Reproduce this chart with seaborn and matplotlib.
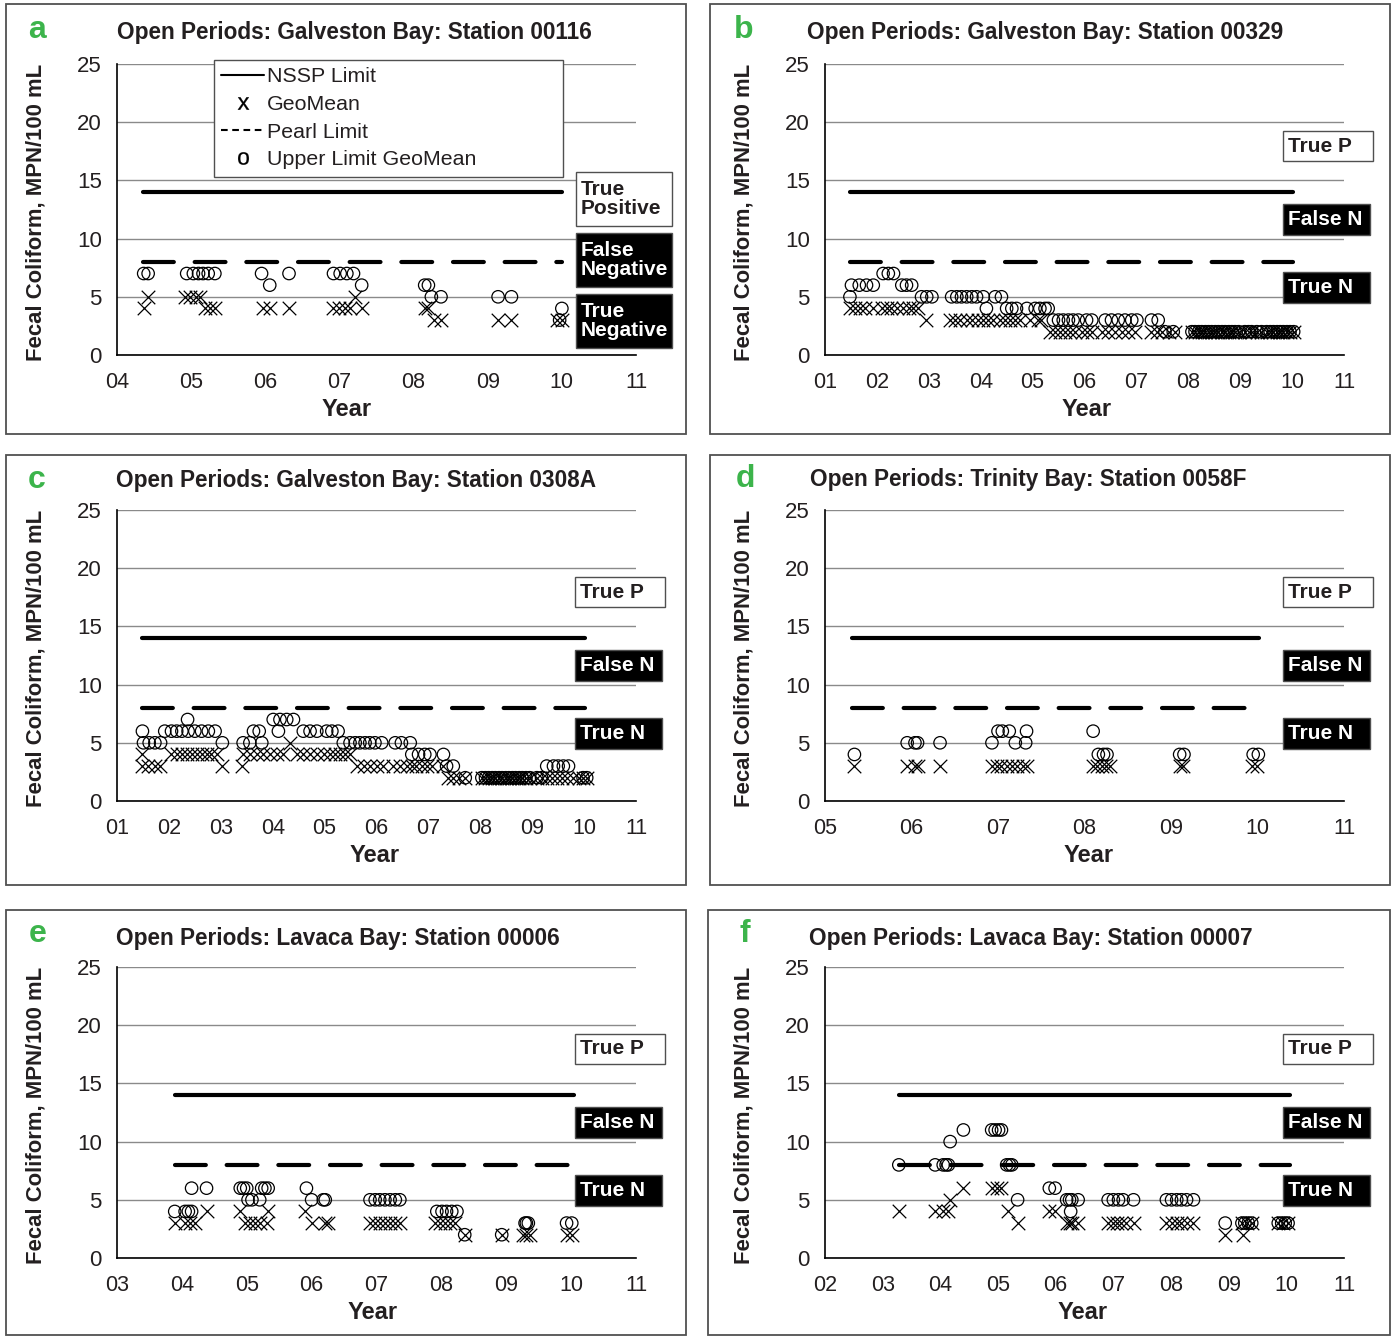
import matplotlib
matplotlib.use('Agg')
import matplotlib.pyplot as plt
import seaborn as sns
from matplotlib.lines import Line2D
from matplotlib.patches import Rectangle
from matplotlib.ticker import MultipleLocator, FuncFormatter

sns.set_style('white')
plt.rcParams['font.family'] = ['Liberation Sans', 'DejaVu Sans']

# ---------------- data ----------------
titles = ['Open Periods: Galveston Bay: Station 00116',
          'Open Periods: Galveston Bay: Station 00329',
          'Open Periods: Galveston Bay: Station 0308A',
          'Open Periods: Trinity Bay: Station 0058F',
          'Open Periods: Lavaca Bay: Station 00006',
          'Open Periods: Lavaca Bay: Station 00007']
letters = ['a', 'b', 'c', 'd', 'e', 'f']
x_min = [4, 1, 1, 5, 3, 2]
x_max = [11, 11, 11, 11, 11, 11]
nssp_limit = 14
pearl_limit = 8
limit_start = [4.35, 1.48, 1.48, 5.31, 3.89, 3.28]
limit_end = [10.0, 10.02, 10.02, 10.02, 10.04, 10.06]

# panel a
a_geo_year = [4.36, 4.42, 4.92, 4.99, 5.07, 5.12, 5.19, 5.25, 5.32, 5.97, 6.06, 6.32,
              6.92, 7.00, 7.08, 7.14, 7.21, 7.31, 8.15, 8.20, 8.27, 8.37, 9.14, 9.32, 9.94, 10.00]
a_geo_val = [4, 5, 5, 5, 5, 5, 4, 4, 4, 4, 4, 4,
             4, 4, 4, 4, 5, 4, 4, 4, 3, 3, 3, 3, 3, 3]
a_ul_year = [4.36, 4.42, 4.94, 5.03, 5.10, 5.16, 5.23, 5.32, 5.95, 6.06, 6.32,
             6.92, 7.01, 7.10, 7.19, 7.30, 8.15, 8.20, 8.24, 8.37, 9.14, 9.32, 9.97, 10.00]
a_ul_val = [7, 7, 7, 7, 7, 7, 7, 7, 7, 6, 7,
            7, 7, 7, 7, 6, 6, 6, 5, 5, 5, 5, 3, 4]

# panel b
b_geo_year = [1.48, 1.58, 1.67, 1.77, 1.93, 2.09, 2.19, 2.28, 2.38, 2.51, 2.61, 2.70, 2.80, 2.95,
              3.41, 3.50, 3.60, 3.73, 3.83, 3.95, 4.05, 4.15, 4.24, 4.37, 4.47, 4.56, 4.66, 4.76, 4.95, 5.11, 5.17,
              5.34, 5.43, 5.53, 5.62, 5.72, 5.82, 5.95, 6.04, 6.14, 6.33, 6.46, 6.59, 6.72, 6.84, 6.97,
              7.29, 7.39, 7.49, 7.62, 7.74,
              8.07, 8.13, 8.20, 8.26, 8.33, 8.39, 8.45, 8.52, 8.58, 8.65, 8.71, 8.78, 8.84, 8.90, 8.97,
              9.09, 9.16, 9.22, 9.32, 9.41, 9.51, 9.58, 9.64, 9.71, 9.77, 9.83, 9.90, 9.96, 10.03]
b_geo_val = [4, 4, 4, 4, 4, 4, 4, 4, 4, 4, 4, 4, 4, 3,
             3, 3, 3, 3, 3, 3, 3, 3, 3, 3, 3, 3, 3, 3, 3, 3, 3,
             2, 2, 2, 2, 2, 2, 2, 2, 2, 2, 2, 2, 2, 2, 2,
             2, 2, 2, 2, 2,
             2, 2, 2, 2, 2, 2, 2, 2, 2, 2, 2, 2, 2, 2, 2,
             2, 2, 2, 2, 2, 2, 2, 2, 2, 2, 2, 2, 2, 2]
b_ul_year = [1.48, 1.51, 1.66, 1.80, 1.93, 2.12, 2.22, 2.32, 2.48, 2.57, 2.67, 2.86, 2.96, 3.06,
             3.44, 3.54, 3.63, 3.73, 3.83, 3.92, 4.05, 4.28, 4.40,
             4.11, 4.50, 4.60, 4.69, 4.89, 5.05, 5.14, 5.24, 5.30,
             5.40, 5.50, 5.59, 5.69, 5.78, 5.88, 6.04, 6.14, 6.40, 6.52, 6.65, 6.78, 6.91, 7.01, 7.29, 7.42,
             7.55, 7.71,
             8.07, 8.13, 8.20, 8.26, 8.33, 8.39, 8.45, 8.52, 8.58, 8.65, 8.71, 8.78, 8.84, 8.90, 8.97,
             9.09, 9.16, 9.22, 9.32, 9.41, 9.51, 9.58, 9.64, 9.71, 9.77, 9.83, 9.90, 9.96, 10.03]
b_ul_val = [5, 6, 6, 6, 6, 7, 7, 7, 6, 6, 6, 5, 5, 5,
            5, 5, 5, 5, 5, 5, 5, 5, 5,
            4, 4, 4, 4, 4, 4, 4, 4, 4,
            3, 3, 3, 3, 3, 3, 3, 3, 3, 3, 3, 3, 3, 3, 3, 3,
            2, 2,
            2, 2, 2, 2, 2, 2, 2, 2, 2, 2, 2, 2, 2, 2, 2,
            2, 2, 2, 2, 2, 2, 2, 2, 2, 2, 2, 2, 2, 2]

# panel c
c_geo_year = [1.48, 1.48, 1.60, 1.73, 1.83,
              2.05, 2.15, 2.25, 2.34, 2.44, 2.54, 2.63, 2.73, 2.82, 2.92, 3.02, 3.40,
              3.43, 3.56, 3.69, 3.82, 3.95, 4.08, 4.20, 4.33,
              4.46, 4.59, 4.72, 4.85, 4.98, 5.10, 5.20, 5.30, 5.39, 5.49,
              5.62, 5.75, 5.87, 6.00, 6.13, 6.32, 6.45, 6.58, 6.68, 6.77, 6.87, 6.97, 7.06, 7.29,
              7.38, 7.48, 7.58, 7.71,
              8.03, 8.10, 8.16, 8.23, 8.29, 8.36, 8.42, 8.49, 8.55, 8.62, 8.68, 8.75, 8.81, 8.88, 8.95,
              9.09, 9.18, 9.28, 9.38, 9.48, 9.58, 9.68, 9.78, 9.90, 9.98, 10.05]
c_geo_val = [4, 3, 3, 3, 3,
             4, 4, 4, 4, 4, 4, 4, 4, 4, 4, 3, 3,
             4, 4, 4, 4, 4, 4, 4, 5,
             4, 4, 4, 4, 4, 4, 4, 4, 4, 4,
             3, 3, 3, 3, 3, 3, 3, 3, 3, 3, 3, 3, 3, 3,
             2, 2, 2, 2,
             2, 2, 2, 2, 2, 2, 2, 2, 2, 2, 2, 2, 2, 2, 2,
             2, 2, 2, 2, 2, 2, 2, 2, 2, 2, 2]
c_ul_year = [1.49, 1.51, 1.62, 1.73, 1.84,
             1.92, 2.05, 2.15, 2.25, 2.37, 2.50, 2.63, 2.76, 2.89, 2.36, 3.03,
             3.43, 3.56, 3.79, 3.63, 3.74, 4.11, 4.59, 4.72, 4.85, 5.04, 5.14, 5.26,
             4.01, 4.14, 4.27, 4.40,
             5.36, 5.49, 5.59, 5.68, 5.78, 5.87, 5.97, 6.10,
             6.36, 6.48, 6.65, 6.68, 6.81, 6.93, 7.03,
             7.29, 7.35, 7.48, 7.71,
             8.03, 8.10, 8.16, 8.23, 8.29, 8.36, 8.42, 8.49, 8.55, 8.62, 8.68, 8.75, 8.81, 8.88, 8.95,
             9.09, 9.18, 9.98, 10.05,
             9.28, 9.41, 9.50, 9.60, 9.70]
c_ul_val = [6, 5, 5, 5, 5,
            6, 6, 6, 6, 6, 6, 6, 6, 6, 7, 5,
            5, 5, 5, 6, 6, 6, 6, 6, 6, 6, 6, 6,
            7, 7, 7, 7,
            5, 5, 5, 5, 5, 5, 5, 5,
            5, 5, 5, 4, 4, 4, 4,
            4, 3, 3, 2,
            2, 2, 2, 2, 2, 2, 2, 2, 2, 2, 2, 2, 2, 2, 2,
            2, 2, 2, 2,
            3, 3, 3, 3, 3]

# panel d
d_geo_year = [5.34, 5.95, 6.04, 6.07, 6.33, 6.93, 6.99, 7.04, 7.10, 7.16, 7.22, 7.29, 7.34,
              8.10, 8.15, 8.20, 8.25, 8.29, 9.10, 9.14, 9.94, 9.99]
d_geo_val = [3, 3, 3, 3, 3, 3, 3, 3, 3, 3, 3, 3, 3,
             3, 3, 3, 3, 3, 3, 3, 3, 3]
d_ul_year = [5.34, 5.95, 6.04, 6.07, 6.33, 6.93, 7.20, 7.32, 7.00, 7.05, 7.13, 7.33,
             8.10, 8.16, 8.22, 8.26, 9.10, 9.15, 9.95, 10.01]
d_ul_val = [4, 5, 5, 5, 5, 5, 5, 5, 6, 6, 6, 6,
            6, 4, 4, 4, 4, 4, 4, 4]

# panel e
e_geo_year = [3.89, 4.05, 4.13, 4.20, 4.38, 4.90, 5.33, 4.97, 5.05, 5.13, 5.20, 5.31,
              5.90, 6.00, 6.21, 6.26, 6.90, 6.98, 7.05, 7.13, 7.21, 7.29, 7.36,
              7.90, 7.98, 8.06, 8.14, 8.21, 8.36, 8.93, 9.26, 9.31, 9.36, 9.93, 10.01]
e_geo_val = [3, 3, 3, 3, 4, 4, 4, 3, 3, 3, 3, 3,
             4, 3, 3, 3, 3, 3, 3, 3, 3, 3, 3,
             3, 3, 3, 3, 3, 2, 2, 2, 2, 2, 2, 2]
e_ul_year = [3.89, 4.05, 4.10, 4.15, 4.15, 4.38, 4.90, 4.95, 5.00, 5.23, 5.28, 5.33, 5.02, 5.08, 5.20,
             5.92, 6.00, 6.18, 6.21, 6.90, 6.98, 7.05, 7.13, 7.21, 7.29, 7.36,
             7.93, 8.01, 8.08, 8.16, 8.24, 8.36, 8.93, 9.29, 9.31, 9.34, 9.93, 10.01]
e_ul_val = [4, 4, 4, 4, 6, 6, 6, 6, 6, 6, 6, 6, 5, 5, 5,
            6, 5, 5, 5, 5, 5, 5, 5, 5, 5, 5,
            4, 4, 4, 4, 4, 2, 2, 3, 3, 3, 3, 3]

# panel f
f_geo_year = [3.28, 3.91, 4.05, 4.14, 4.17, 4.40, 4.89, 4.98, 5.06, 5.18, 5.34, 5.89, 5.99,
              6.19, 6.25, 6.29, 6.39, 6.91, 6.99, 7.06, 7.14, 7.22, 7.35,
              7.92, 8.01, 8.10, 8.18, 8.27, 8.38, 8.94, 9.25, 9.23, 9.31, 9.40, 9.86, 9.95, 10.03]
f_geo_val = [4, 4, 4, 4, 5, 6, 6, 6, 6, 4, 3, 4, 4,
             3, 3, 3, 3, 3, 3, 3, 3, 3, 3,
             3, 3, 3, 3, 3, 3, 2, 2, 3, 3, 3, 3, 3, 3]
f_ul_year = [3.28, 3.91, 4.05, 4.10, 4.14, 4.17, 4.40, 4.89, 4.95, 5.01, 5.06, 5.15, 5.20, 5.24,
             5.34, 5.89, 5.99, 6.19, 6.24, 6.28, 6.39, 6.26, 6.91, 7.00, 7.09, 7.17, 7.35,
             7.92, 8.01, 8.10, 8.18, 8.27, 8.39, 8.94, 9.23, 9.28, 9.34, 9.40, 9.86, 9.92, 9.98, 10.03]
f_ul_val = [8, 8, 8, 8, 8, 10, 11, 11, 11, 11, 11, 8, 8, 8,
            5, 6, 6, 5, 5, 5, 5, 4, 5, 5, 5, 5, 5,
            5, 5, 5, 5, 5, 5, 3, 3, 3, 3, 3, 3, 3, 3, 3]

geo_years = [a_geo_year, b_geo_year, c_geo_year, d_geo_year, e_geo_year, f_geo_year]
geo_vals = [a_geo_val, b_geo_val, c_geo_val, d_geo_val, e_geo_val, f_geo_val]
ul_years = [a_ul_year, b_ul_year, c_ul_year, d_ul_year, e_ul_year, f_ul_year]
ul_vals = [a_ul_val, b_ul_val, c_ul_val, d_ul_val, e_ul_val, f_ul_val]

# ---------------- layout (pixels) ----------------
W, H = 1397, 1336
AX_W, AX_H = 519, 291
ax_left = [117, 825, 117, 825, 117, 825]
ax_top = [64, 64, 510, 510, 967, 967]
frames = [(6, 4, 686, 434), (710, 4, 1390, 434), (6, 455, 686, 885),
          (710, 455, 1390, 885), (6, 910, 686, 1335), (708, 910, 1390, 1335)]
title_pos = [(117, 33), (807, 33), (116, 481), (810, 480), (116, 938), (809, 938)]
letter_pos = [(37, 30), (744, 30), (37, 480), (745, 479), (38, 934), (745, 934)]
xlabel_x = [0.443, 0.505, 0.497, 0.507, 0.493, 0.497]

TXT = '#231f20'
GREEN = '#3cb44b'

fig = plt.figure(figsize=(W / 100, H / 100), dpi=100)

for (x0, y0, x1, y1) in frames:
    fig.patches.append(Rectangle((x0 / W, 1 - y1 / H), (x1 - x0) / W, (y1 - y0) / H,
                                 transform=fig.transFigure, fill=False,
                                 edgecolor='#505050', lw=1.3))


def add_box(ax, x0, y0, x1, y1, text, dark):
    ax.add_patch(Rectangle((x0 / AX_W, 1 - y1 / AX_H), (x1 - x0) / AX_W, (y1 - y0) / AX_H,
                           transform=ax.transAxes, clip_on=False,
                           facecolor='black' if dark else 'white',
                           edgecolor='#505050', lw=1.0, zorder=5))
    ax.text((x0 + 5) / AX_W, 1 - (y0 + y1) / 2 / AX_H, text, transform=ax.transAxes,
            ha='left', va='center', fontsize=15, fontweight='bold', linespacing=1.0,
            color='white' if dark else TXT, zorder=6, clip_on=False)


for i in range(6):
    ax = fig.add_axes([ax_left[i] / W, 1 - (ax_top[i] + AX_H) / H, AX_W / W, AX_H / H])
    ax.set_xlim(x_min[i], x_max[i])
    ax.set_ylim(0, 25)
    ax.set_yticks([0, 5, 10, 15, 20, 25])
    ax.yaxis.grid(True, color='#8a8a8a', lw=1.0)
    ax.xaxis.grid(False)
    ax.set_axisbelow(True)
    for s in ['top', 'right']:
        ax.spines[s].set_visible(False)
    for s in ['left', 'bottom']:
        ax.spines[s].set_color('black')
        ax.spines[s].set_linewidth(1.2)
    ax.xaxis.set_major_locator(MultipleLocator(1))
    ax.xaxis.set_minor_locator(MultipleLocator(0.2))
    ax.xaxis.set_major_formatter(FuncFormatter(lambda v, p: '%02d' % int(round(v))))
    ax.tick_params(axis='x', which='major', direction='out', length=8, width=1,
                   color='#9a9a9a', labelsize=15.5, labelcolor=TXT, pad=4)
    ax.tick_params(axis='x', which='minor', direction='inout', length=6, width=0.8,
                   color='#9a9a9a')
    ax.tick_params(axis='y', which='major', direction='out', length=8, width=1,
                   color='#9a9a9a', labelsize=16, labelcolor=TXT, pad=3)

    # limit lines
    ax.plot([limit_start[i], limit_end[i]], [nssp_limit, nssp_limit], color='black',
            lw=3.0, solid_capstyle='round', zorder=3)
    ax.plot([limit_start[i], limit_end[i]], [pearl_limit, pearl_limit], color='black',
            lw=3.0, linestyle=(0, (7.4, 5.0)), dash_capstyle='round', zorder=3)

    # points
    sns.scatterplot(x=geo_years[i], y=geo_vals[i], marker='x', color='black', s=95,
                    linewidth=0.9, ax=ax, zorder=4, legend=False)
    sns.scatterplot(x=ul_years[i], y=ul_vals[i], marker='o', facecolor='none',
                    edgecolor='black', s=80, linewidth=0.9, ax=ax, zorder=4, legend=False)

    ax.set_ylabel('Fecal Coliform, MPN/100 mL', fontsize=15.9, fontweight='bold', color=TXT)
    ax.yaxis.set_label_coords(-(117 - 47) / AX_W, 0.49)
    ax.set_xlabel('Year', fontsize=17, fontweight='bold', color=TXT)
    ax.xaxis.set_label_coords(xlabel_x[i], -(398 - 355) / AX_H)

    tx, ty = title_pos[i]
    fig.text(tx / W, 1 - ty / H, titles[i], ha='left', va='center', fontsize=16.3,
             fontweight='bold', color=TXT)
    lx, ly = letter_pos[i]
    fig.text(lx / W, 1 - ly / H, letters[i], ha='center', va='center', fontsize=23,
             fontweight='bold', color=GREEN)

    if i == 0:
        add_box(ax, 459, 108, 555, 162, 'True\nPositive', False)
        add_box(ax, 459, 169, 555, 223, 'False\nNegative', True)
        add_box(ax, 459, 230, 555, 284, 'True\nNegative', True)
        handles = [Line2D([], [], color='black', lw=1.5),
                   Line2D([], [], ls='none', marker=r'$\mathregular{x}$', color='black',
                          markersize=9, markeredgewidth=0.2),
                   Line2D([], [], color='black', lw=1.5, ls=(0, (3.2, 2.2))),
                   Line2D([], [], ls='none', marker=r'$\mathregular{o}$', color='black',
                          markersize=9, markeredgewidth=0.2)]
        labels = ['NSSP Limit', 'GeoMean', 'Pearl Limit', 'Upper Limit GeoMean']
        leg = ax.legend(handles, labels, loc='upper left',
                        bbox_to_anchor=(97 / AX_W, 1 - 116 / AX_H, 349 / AX_W, 120 / AX_H),
                        mode='expand', borderaxespad=0, fontsize=15.4, frameon=True,
                        fancybox=False, edgecolor='#505050', framealpha=1,
                        handlelength=2.0, handletextpad=0.14, labelspacing=0.4,
                        borderpad=0.35)
        leg.get_frame().set_linewidth(1.0)
        for t in leg.get_texts():
            t.set_color(TXT)
        leg.set_zorder(10)
    else:
        add_box(ax, 458, 67, 548, 97, 'True P', False)
        add_box(ax, 458, 140, 545, 171, 'False N', True)
        add_box(ax, 458, 208, 545, 239, 'True N', True)

fig.savefig('out.png', dpi=100)
